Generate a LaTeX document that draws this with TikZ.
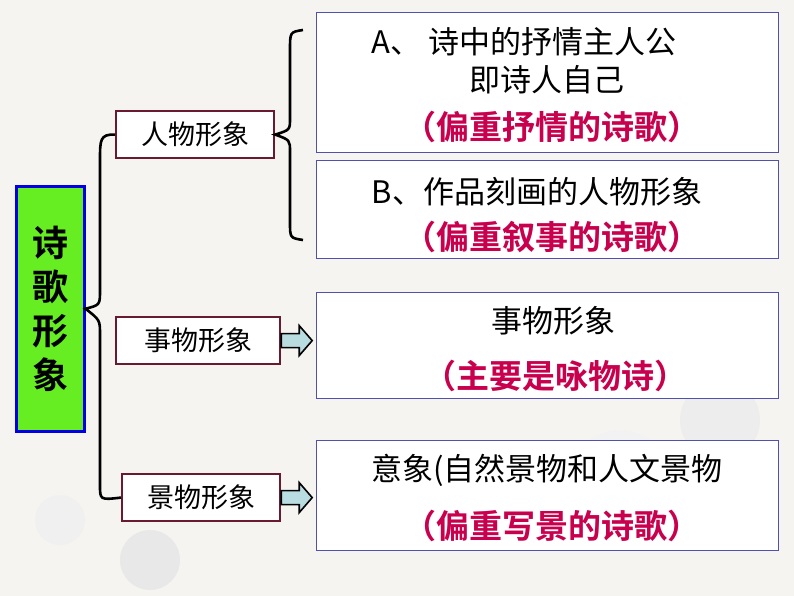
\documentclass[tikz,border=0pt]{standalone}
\usepackage{fontspec}
\newfontfamily\cjk{Noto Sans CJK SC}
\newfontfamily\cjkb{Noto Sans CJK SC Bold}
\definecolor{bg}{HTML}{F5F4F1}
\definecolor{red1}{HTML}{C8004E}
\definecolor{box}{HTML}{6A1A30}
\definecolor{rb}{HTML}{5050B0}
\definecolor{gr}{HTML}{66EE22}
\definecolor{arr}{HTML}{B8DCE0}
\tikzset{x=1pt,y=-1pt,
 lbox/.style={draw=box,line width=2.2pt,fill=white,minimum height=47pt,anchor=north west,inner sep=0pt,font=\cjk\fontsize{27}{29}\selectfont},
 rbox/.style={draw=rb,line width=0.9pt,fill=white,anchor=north west,minimum width=462pt,inner sep=0pt},
 blk/.style={font=\cjk\fontsize{31}{33}\selectfont},
 rd/.style={font=\cjkb\fontsize{33}{35}\selectfont,text=red1},
 br/.style={line width=2.6pt}}
\begin{document}
\begin{tikzpicture}
\useasboundingbox (0,0) rectangle (794,596);
\fill[bg] (0,0) rectangle (794,596);
\fill[gray!18] (150,560) circle (30); \fill[gray!12] (60,520) circle (25); \fill[gray!14] (720,420) circle (40); \fill[gray!10] (620,480) circle (50);
% left
\node[draw=blue!90!black,line width=2.5pt,fill=gr,minimum width=68pt,minimum height=245pt,anchor=north west,inner sep=0pt,align=center,font=\cjkb\fontsize{36}{44}\selectfont] (main) at (15,185) {诗\\歌\\形\\象};
\node[lbox,minimum width=158pt] (p) at (115,110) {人物形象};
\node[lbox,minimum width=164pt] (s) at (115,316) {事物形象};
\node[lbox,minimum width=158pt] (j) at (121,473) {景物形象};
\draw[br] (p.west) .. controls (100,134) and (100,140) .. (100,160) -- (100,290) .. controls (100,305) .. (main.east) .. controls (100,320) .. (100,335) -- (100,485) .. controls (100,500) .. (j.west);
% right boxes
\node[rbox,minimum height=140pt] (b1) at (316,12) {};
\node[rbox,minimum height=98pt] (b2) at (316,160) {};
\node[rbox,minimum height=106pt] (b3) at (316,292) {};
\node[rbox,minimum height=110pt] (b4) at (316,440) {};
\node[blk,anchor=west] (t1) at (368,42) {A、 诗中的抒情主人公};
\node[blk] (t2) at (547,80) {即诗人自己};
\node[rd] (t3) at (552,127) {（偏重抒情的诗歌）};
\node[blk] (t4) at (537,192) {B、作品刻画的人物形象};
\node[rd] (t5) at (552,237) {（偏重叙事的诗歌）};
\node[blk] (t6) at (553,321) {事物形象};
\node[rd] (t7) at (555,376) {（主要是咏物诗）};
\node[blk] (t8) at (547,470) {意象(自然景物和人文景物};
\node[rd] (t9) at (552,526) {（偏重写景的诗歌）};
% second brace
\coordinate (c1) at (303,30); \coordinate (c2) at (303,240);
\draw[br] (c1) .. controls (290,32) .. (290,50) -- (290,118) .. controls (290,130) .. (p.east) .. controls (290,140) .. (290,152) -- (290,222) .. controls (290,238) .. (c2);
% arrows
\foreach \a in {s,j}{
 \draw[line width=1.6pt,fill=arr] (\a.east) ++(0,-7) -- ++(18,0) -- ++(0,-8) -- ++(13,15) -- ++(-13,15) -- ++(0,-8) -- ++(-18,0) -- cycle;}
\end{tikzpicture}
\end{document}
